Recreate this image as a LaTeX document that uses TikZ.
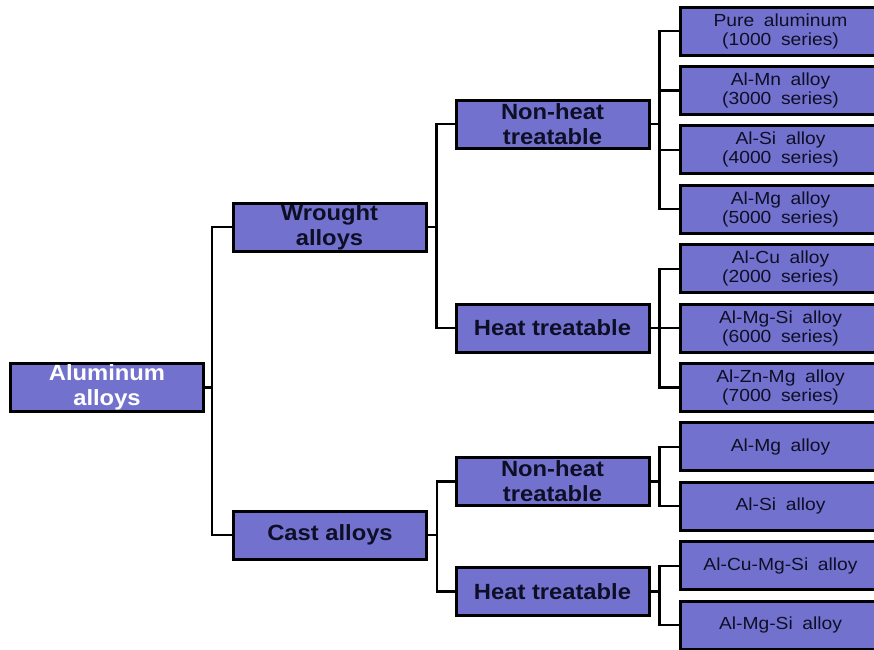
\documentclass[tikz,border=0pt]{standalone}
\usepackage{fontspec}
\setmainfont{Liberation Sans}
\newfontfamily\boxfont[FakeStretch=1.08]{Liberation Sans}
\newfontfamily\leaffont[FakeStretch=1.1, WordSpace=1.8]{Liberation Sans}
\usetikzlibrary{positioning, calc}
\definecolor{boxblue}{RGB}{114,114,206}
\definecolor{inkdark}{RGB}{14,14,38}

\begin{document}
\begin{tikzpicture}[
    x=1pt, y=-1pt,
    box root/.style={fill=boxblue, draw=black, line width=3pt, minimum width=193pt,
                     minimum height=48pt, inner sep=0pt, align=center, text=white,
                     font=\boxfont\bfseries\fontsize{22}{25}\selectfont},
    box mid/.style={fill=boxblue, draw=black, line width=3pt, minimum width=193pt,
                    minimum height=48pt, inner sep=0pt, align=center, text=inkdark,
                    font=\boxfont\bfseries\fontsize{22}{25}\selectfont},
    box leaf/.style={fill=boxblue, draw=black, line width=3pt, minimum width=200pt,
                     minimum height=48pt, inner sep=0pt, align=center, text=inkdark,
                     font=\leaffont\fontsize{17.5}{19}\selectfont},
    link/.style={draw=black, line width=2.2pt},
]

\def\lx{780.5}  % leaf column centre
\def\lp{59.4}   % leaf pitch

\clip (0,0) rectangle (874,649);
\fill[white] (0,0) rectangle (874,649);

% Root
\node[box root] (AL) at (107, 387.5) {Aluminum\\alloys};

% Second level
\node[box mid] (WA) at (329.5, 227) {Wrought\\alloys};
\node[box mid] (CA) at (330, 535) {Cast alloys};

% Third level
\node[box mid] (WN) at (552.5, 124) {Non-heat\\treatable};
\node[box mid] (WH) at (552.5, 328) {Heat treatable};
\node[box mid] (CN) at (552.5, 481.5) {Non-heat\\treatable};
\node[box mid] (CH) at (552.5, 591.5) {Heat treatable};

% Leaves
\node[box leaf] (L1) at (\lx, 31) {Pure aluminum\\(1000 series)};
\node[box leaf] (L2) at (\lx, {31+\lp}) {Al-Mn alloy\\(3000 series)};
\node[box leaf] (L3) at (\lx, {31+2*\lp}) {Al-Si alloy\\(4000 series)};
\node[box leaf] (L4) at (\lx, {31+3*\lp}) {Al-Mg alloy\\(5000 series)};
\node[box leaf] (L5) at (\lx, {31+4*\lp}) {Al-Cu alloy\\(2000 series)};
\node[box leaf] (L6) at (\lx, {31+5*\lp}) {Al-Mg-Si alloy\\(6000 series)};
\node[box leaf] (L7) at (\lx, {31+6*\lp}) {Al-Zn-Mg alloy\\(7000 series)};
\node[box leaf] (L8) at (\lx, {31+7*\lp}) {Al-Mg alloy};
\node[box leaf] (L9) at (\lx, {31+8*\lp}) {Al-Si alloy};
\node[box leaf] (L10) at (\lx, {31+9*\lp}) {Al-Cu-Mg-Si alloy};
\node[box leaf] (L11) at (\lx, {31+10*\lp}) {Al-Mg-Si alloy};

% Root -> wrought / cast
\draw[link] (AL.east) -- ++(7,0) coordinate (j0);
\draw[link] (j0) |- (WA.west);
\draw[link] (j0) |- (CA.west);

% Wrought -> non-heat / heat
\draw[link] (WA.east) -- ++(9,0) coordinate (j1);
\draw[link] (j1) |- (WN.west);
\draw[link] (j1) |- (WH.west);

% Cast -> non-heat / heat
\draw[link] (CA.east) -- ++(9,0) coordinate (j2);
\draw[link] (j2) |- (CN.west);
\draw[link] (j2) |- (CH.west);

% Wrought non-heat treatable -> series
\draw[link] (WN.east) -- ++(9,0) coordinate (j3);
\draw[link] (j3) |- (L1.west);
\draw[link] (j3) |- (L2.west);
\draw[link] (j3) |- (L3.west);
\draw[link] (j3) |- (L4.west);

% Wrought heat treatable -> series
\draw[link] (WH.east) -- ++(9,0) coordinate (j4);
\draw[link] (j4) |- (L5.west);
\draw[link] (j4) |- (L6.west);
\draw[link] (j4) |- (L7.west);

% Cast non-heat treatable
\draw[link] (CN.east) -- ++(9,0) coordinate (j5);
\draw[link] (j5) |- (L8.west);
\draw[link] (j5) |- (L9.west);

% Cast heat treatable
\draw[link] (CH.east) -- ++(9,0) coordinate (j6);
\draw[link] (j6) |- (L10.west);
\draw[link] (j6) |- (L11.west);

\end{tikzpicture}
\end{document}
